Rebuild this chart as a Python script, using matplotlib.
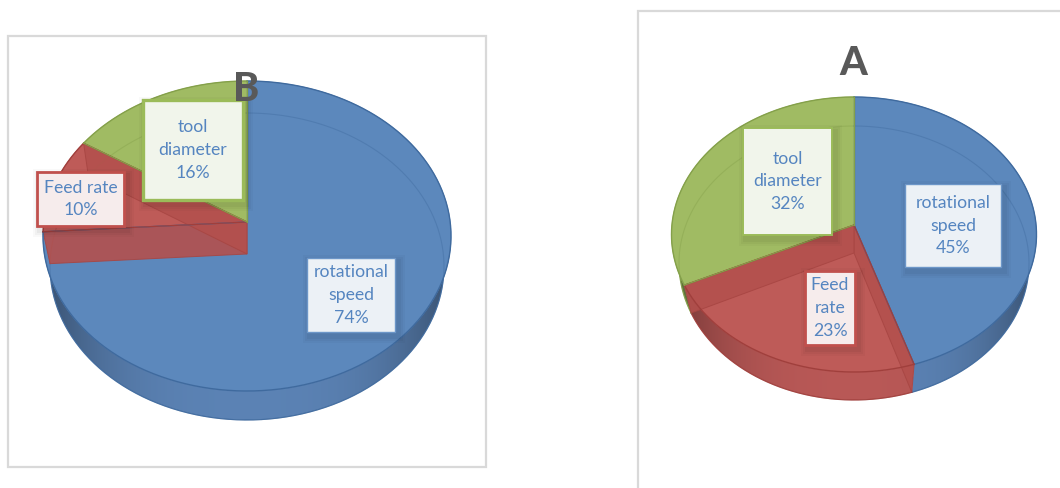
import numpy as np
import matplotlib
matplotlib.use("Agg")
import matplotlib.pyplot as plt
from matplotlib.patches import Polygon, Rectangle

# ---- data ----
categories = ["rotational\nspeed", "Feed rate", "tool\ndiameter"]
values_b = [74, 10, 16]
values_a = [45, 23, 32]
title_b = "B"
title_a = "A"
categories_a = ["rotational\nspeed", "Feed\nrate", "tool\ndiameter"]

# ---- style ----
FACE = ["#5C88BC", "#BE5B58", "#A0BB63"]
EDGE = ["#3F6A9E", "#A03F3C", "#84A04A"]
WALL = [np.array(matplotlib.colors.to_rgb(c)) for c in ("#5D85B8", "#BC5A58", "#8FA95A")]
BOX_EDGE_B = ["#6C96C8", "#C0504D", "#9BBB59"]
BOX_FILL = ["#ECF1F6", "#F6ECEC", "#F1F5EB"]
BOX_LW_B = [1.0, 2.0, 2.4]
BOX_LW_A = [1.0, 2.0, 1.4]
TEXT = "#5585C0"
FONT = "Lato"

# geometry: cx, top cy, top rx, top ry, apex y / bottom cy, rx, ry, apex y
GEOM_B = dict(cx=247, top=(236, 204, 155, 222), bot=(266.5, 197, 153.5, 254))
GEOM_A = dict(cx=854, top=(234.5, 182.5, 137.5, 225), bot=(263, 175, 137, 253))
BOXES_B = [(307, 258, 88, 74), (37, 172, 87, 54), (143, 100, 100, 100)]
BOXES_A = [(905, 184, 96, 83), (805, 271, 50, 74), (743, 128, 89, 107)]


def rim(theta, cx, ell):
    """Ray-cast from the perspective apex through the direction of each angle."""
    cy, rx, ry, ay = ell
    dx, dy = np.sin(theta) * rx, -np.cos(theta) * ry
    oy = ay - cy
    a = (dx / rx) ** 2 + (dy / ry) ** 2
    b = 2 * oy * dy / ry ** 2
    c = (oy / ry) ** 2 - 1
    t = (-b + np.sqrt(b * b - 4 * a * c)) / (2 * a)
    return cx + t * dx, ay + t * dy


def draw_pie(ax, values, geom):
    cx, top, bot = geom["cx"], geom["top"], geom["bot"]
    edges = np.radians(np.concatenate([[0], np.cumsum(values)]) * 3.6)
    rx = top[1]
    # outer walls: a horizontal shading gradient clipped to each slice's wall
    u = np.linspace(-1.02, 1.02, 400)
    shade = 0.98 - 0.38 * np.abs(u) ** 3
    for i in range(len(values)):
        th = np.linspace(edges[i], edges[i + 1], 240)
        xt, yt = rim(th, cx, top)
        xb, yb = rim(th, cx, bot)
        pts = np.column_stack([np.r_[xt, xb[::-1]], np.r_[yt, yb[::-1]]])
        clip = Polygon(pts, closed=True, transform=ax.transData, fc="none", ec="none")
        ax.add_patch(clip)
        rgb = (WALL[i][None, None, :] * shade[None, :, None])
        im = ax.imshow(rgb, extent=(cx - 1.02 * rx, cx + 1.02 * rx, bot[0] + bot[2] + 4, top[0] - 4),
                       aspect="auto", interpolation="bilinear", zorder=2)
        im.set_clip_path(clip)
        ax.plot(xb, yb, color=EDGE[i], lw=0.8, alpha=0.9, zorder=2.1)
    # top faces
    for i in range(len(values)):
        th = np.linspace(edges[i], edges[i + 1], 240)
        xt, yt = rim(th, cx, top)
        pts = np.column_stack([np.r_[cx, xt], np.r_[top[3], yt]])
        ax.add_patch(Polygon(pts, closed=True, fc=FACE[i], ec=FACE[i], lw=0.5, zorder=3))
    # see-through far rim of the base
    for i in range(len(values)):
        th = np.linspace(edges[i], edges[i + 1], 240)
        xb, yb = rim(th, cx, bot)
        ax.plot(xb, yb, color=EDGE[i], lw=0.8, alpha=0.4, zorder=3.2)
    # rim outline and radial edges
    for i in range(len(values)):
        th = np.linspace(edges[i], edges[i + 1], 240)
        xt, yt = rim(th, cx, top)
        ax.plot(xt, yt, color=EDGE[i], lw=1.0, zorder=3.6)
        ax.plot([cx, xt[0]], [top[3], yt[0]], color=EDGE[i], lw=0.9, zorder=3.6)
        ax.plot([cx, xt[-1]], [top[3], yt[-1]], color=EDGE[i], lw=0.9, zorder=3.6)
    # translucent cut walls of the red slice
    i = 1
    for e in (edges[i], edges[i + 1]):
        xt, yt = rim(np.array([e]), cx, top)
        xb, yb = rim(np.array([e]), cx, bot)
        quad = [(cx, top[3]), (xt[0], yt[0]), (xb[0], yb[0]), (cx, bot[3])]
        ax.add_patch(Polygon(quad, closed=True, fc="#B3504D", ec="#A84643", lw=0.7, alpha=0.9, zorder=3.4))


def draw_labels(ax, names, values, boxes, lws):
    for name, v, (x, y, w, h), ec, fc, lw in zip(names, values, boxes, BOX_EDGE_B, BOX_FILL, lws):
        for grow, alpha in ((7, 0.025), (5, 0.03), (3, 0.04)):
            ax.add_patch(Rectangle((x - grow + 3, y - grow + 4), w + 2 * grow, h + 2 * grow,
                                   fc="black", ec="none", alpha=alpha, zorder=5))
        ax.add_patch(Rectangle((x, y), w, h, fc=fc, ec=ec, lw=lw, zorder=6))
        ax.text(x + w / 2, y + h / 2, f"{name}\n{v}%", ha="center", va="center", color=TEXT,
                fontsize=12.7, family=FONT, linespacing=1.53, zorder=7)


fig = plt.figure(figsize=(10.6, 4.88), dpi=100)
ax = fig.add_axes([0, 0, 1, 1])

# chart frames
ax.add_patch(Rectangle((8, 36), 478, 431, fc="white", ec="#D9D9D9", lw=1.6, zorder=1))
ax.add_patch(Rectangle((638, 11), 500, 540, fc="white", ec="#D9D9D9", lw=1.6, zorder=1))

draw_pie(ax, values_b, GEOM_B)
draw_pie(ax, values_a, GEOM_A)
draw_labels(ax, categories, values_b, BOXES_B, BOX_LW_B)
draw_labels(ax, categories_a, values_a, BOXES_A, BOX_LW_A)

ax.text(246.5, 89.5, title_b, ha="center", va="center", color="#595959", fontsize=28.5,
        fontweight=900, family=FONT, zorder=8)
ax.text(853, 63.5, title_a, ha="center", va="center", color="#595959", fontsize=28.5,
        fontweight=900, family=FONT, zorder=8)

ax.set_xlim(0, 1060)
ax.set_ylim(488, 0)
ax.axis("off")
fig.savefig("out.png", dpi=100)
